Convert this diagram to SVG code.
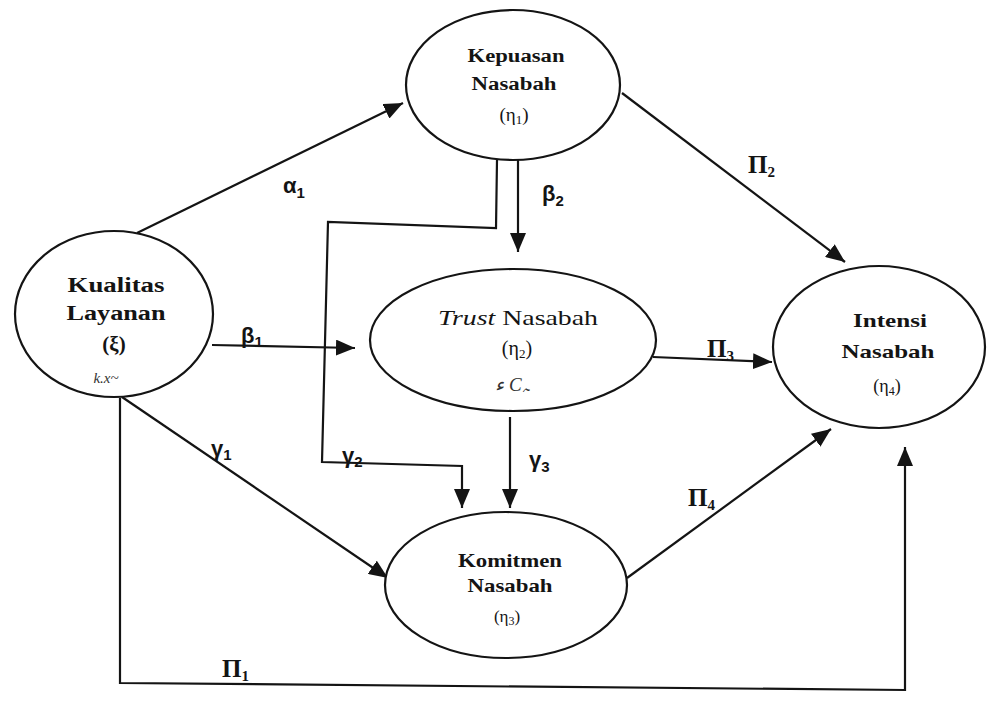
<svg xmlns="http://www.w3.org/2000/svg" width="990" height="703" viewBox="0 0 990 703">
  <style>
    .node ellipse { fill: #ffffff; stroke: #141414; stroke-width: 2.2; }
    .lbl { font-family: "Liberation Serif", "Times New Roman", serif; font-weight: bold; fill: #141414; text-anchor: middle; }
    .reg { font-weight: normal; }
    .note { font-family: "Liberation Serif", serif; font-style: italic; fill: #333; text-anchor: middle; }
    .conn path { fill: none; stroke: #141414; stroke-width: 2.2; }
    .coef { font-family: "Liberation Sans", Arial, sans-serif; font-weight: bold; fill: #141414; font-size: 22px; }
    .pi { font-family: "Liberation Serif", "Times New Roman", serif; font-weight: bold; fill: #141414; font-size: 25px; }
    .sub { font-size: 15px; }
  </style>
  <defs>
    <marker id="arrow" markerUnits="userSpaceOnUse" markerWidth="20" markerHeight="16" refX="19" refY="8" orient="auto">
      <path d="M0,0 L19,8 L0,16 z" fill="#141414"/>
    </marker>
  </defs>
  <rect width="990" height="703" fill="#ffffff"/>

  <!-- connectors -->
  <g id="connectors" class="conn">
    <path d="M137,233 L403,103" marker-end="url(#arrow)"/>
    <path d="M622,93 L845,262" marker-end="url(#arrow)"/>
    <path d="M518,160 L518,252" marker-end="url(#arrow)"/>
    <path d="M497,160 L496,228 L328,222 L322,462 L462,466 L462,508" marker-end="url(#arrow)"/>
    <path d="M510,417 L510,508" marker-end="url(#arrow)"/>
    <path d="M212,345 L355,348" marker-end="url(#arrow)"/>
    <path d="M653,357 L772,362" marker-end="url(#arrow)"/>
    <path d="M627,578 L831,429" marker-end="url(#arrow)"/>
    <path d="M122,397 L388,578" marker-end="url(#arrow)"/>
    <path d="M120,398 L120,683 L905,690 L905,447" marker-end="url(#arrow)"/>
  </g>

  <!-- path coefficients -->
  <g id="coefficients">
    <text class="coef" x="283" y="193">α<tspan class="sub" dy="5">1</tspan></text>
    <text class="coef" x="542" y="201">β<tspan class="sub" dy="5">2</tspan></text>
    <text class="pi" x="748" y="173">Π<tspan class="sub" dy="4">2</tspan></text>
    <text class="coef" x="241" y="343">β<tspan class="sub" dy="4">1</tspan></text>
    <text class="pi" x="707" y="357">Π<tspan class="sub" dy="4">3</tspan></text>
    <text class="coef" x="211" y="456">γ<tspan class="sub" dy="4">1</tspan></text>
    <text class="coef" x="342" y="463">γ<tspan class="sub" dy="4">2</tspan></text>
    <text class="coef" x="529" y="467">γ<tspan class="sub" dy="5">3</tspan></text>
    <text class="pi" x="688" y="506">Π<tspan class="sub" dy="4">4</tspan></text>
    <text class="pi" x="222" y="677">Π<tspan class="sub" dy="4">1</tspan></text>
  </g>

  <!-- latent variables -->
  <g id="kepuasan" class="node">
    <ellipse cx="513" cy="85" rx="107" ry="75"/>
    <text class="lbl" x="516" y="62" font-size="18" textLength="97" lengthAdjust="spacingAndGlyphs">Kepuasan</text>
    <text class="lbl" x="514" y="90" font-size="18" textLength="85" lengthAdjust="spacingAndGlyphs">Nasabah</text>
    <text class="lbl reg" x="514" y="121" font-size="19">(η<tspan font-size="13" dy="3">1</tspan><tspan dy="-3">)</tspan></text>
  </g>

  <g id="kualitas" class="node">
    <ellipse cx="114" cy="314" rx="99" ry="83"/>
    <text class="lbl" x="116" y="292" font-size="20" textLength="97" lengthAdjust="spacingAndGlyphs">Kualitas</text>
    <text class="lbl" x="116" y="320" font-size="20" textLength="99" lengthAdjust="spacingAndGlyphs">Layanan</text>
    <text class="lbl" x="114" y="351" font-size="21">(ξ)</text>
    <text class="note" x="106" y="383" font-size="15">k.x~</text>
  </g>

  <g id="trust" class="node">
    <ellipse cx="513" cy="340" rx="143" ry="71"/>
    <text class="lbl reg" x="518" y="325" font-size="21" textLength="160" lengthAdjust="spacingAndGlyphs"><tspan font-style="italic">Trust</tspan> Nasabah</text>
    <text class="lbl reg" x="517" y="355" font-size="20">(η<tspan font-size="13" dy="3">2</tspan><tspan dy="-3">)</tspan></text>
    <text class="note" x="512" y="391" font-size="19">ﺀ Cﮧ</text>
  </g>

  <g id="intensi" class="node">
    <ellipse cx="879" cy="347" rx="106" ry="81"/>
    <text class="lbl" x="890" y="327" font-size="19" textLength="74" lengthAdjust="spacingAndGlyphs">Intensi</text>
    <text class="lbl" x="888" y="358" font-size="19" textLength="93" lengthAdjust="spacingAndGlyphs">Nasabah</text>
    <text class="lbl reg" x="887" y="392" font-size="18">(η<tspan font-size="12" dy="3">4</tspan><tspan dy="-3">)</tspan></text>
  </g>

  <g id="komitmen" class="node">
    <ellipse cx="506" cy="585" rx="121" ry="73"/>
    <text class="lbl" x="510" y="567" font-size="19" textLength="104" lengthAdjust="spacingAndGlyphs">Komitmen</text>
    <text class="lbl" x="510" y="592" font-size="19" textLength="85" lengthAdjust="spacingAndGlyphs">Nasabah</text>
    <text class="lbl reg" x="507" y="622" font-size="17">(η<tspan font-size="12" dy="3">3</tspan><tspan dy="-3">)</tspan></text>
  </g>
</svg>
